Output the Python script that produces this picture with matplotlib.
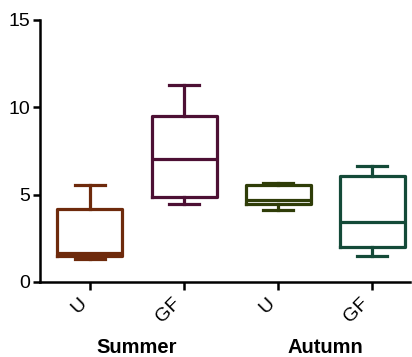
import matplotlib
matplotlib.use("Agg")
import matplotlib.pyplot as plt

plt.rcParams['font.family'] = ['Liberation Sans', 'DejaVu Sans']

labels = ["U", "GF", "U", "GF"]
groups = ["Summer", "Autumn"]
whislo = [1.3, 4.46, 4.11, 1.49]
q1 = [1.46, 4.88, 4.46, 2.02]
med = [1.67, 7.05, 4.69, 3.45]
q3 = [4.2, 9.49, 5.58, 6.06]
whishi = [5.54, 11.3, 5.64, 6.65]
colors = ["#6e2a0c", "#4d1034", "#2f3d08", "#144a38"]

fig = plt.figure(figsize=(4.12, 3.57), dpi=100)
ax = fig.add_axes([40/412, 1 - 282/357, 370/412, 262/357])

positions = list(range(len(labels)))
for i in positions:
    stats = [dict(med=med[i], q1=q1[i], q3=q3[i], whislo=whislo[i], whishi=whishi[i], label=labels[i])]
    c = colors[i]
    ax.bxp(stats, positions=[i], widths=0.69, showfliers=False,
           boxprops=dict(color=c, linewidth=2.3),
           medianprops=dict(color=c, linewidth=2.3),
           whiskerprops=dict(color=c, linewidth=2.3),
           capprops=dict(color=c, linewidth=2.3),
           capwidths=0.32)

ax.set_xlim(-0.53, 3.4)
ax.set_ylim(0, 15)
ax.set_yticks([0, 5, 10, 15])
ax.set_xticks(positions)
ax.set_xticklabels(labels, rotation=45, ha='right', fontsize=14)
ax.spines['top'].set_visible(False)
ax.spines['right'].set_visible(False)
for s in ['left', 'bottom']:
    ax.spines[s].set_linewidth(1.8)
ax.tick_params(axis='both', width=1.8, length=5, labelsize=14, pad=2)
ax.tick_params(axis='x', length=6, pad=3)

for gi, g in enumerate(groups):
    xc = gi * 2 + 0.5
    ax.text(xc, -0.25, g, transform=ax.get_xaxis_transform(), ha='center', va='center',
            fontsize=14.5, fontweight='bold')

fig.savefig("out.png", dpi=100)
